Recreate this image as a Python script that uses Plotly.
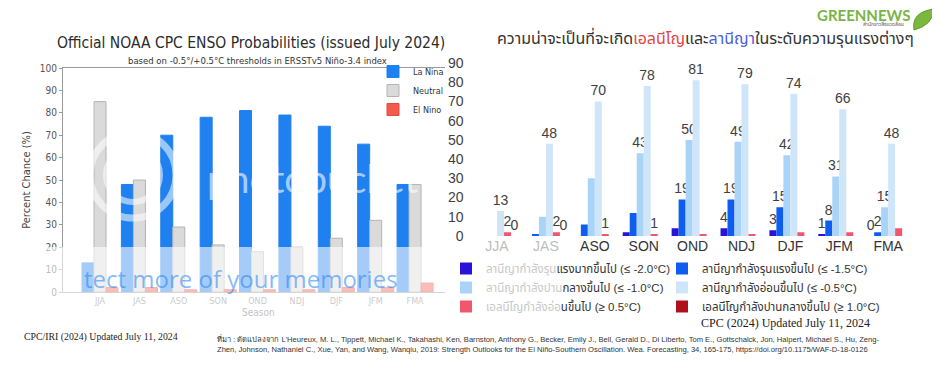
import plotly.graph_objects as go

W, H = 940, 375
OFF = 8  # the page body adds an 8px margin; positions below are in screen pixels


def px(x):
    return (x - OFF) / W


def py(y):
    return (H - (y - OFF)) / H


# ---------------- data: left chart (NOAA CPC) ----------------
seasons = ["JJA", "JAS", "ASO", "SON", "OND", "NDJ", "DJF", "JFM", "FMA"]
la_nina = [13, 48, 70, 78, 81, 79, 74, 66, 48]
neutral = [85, 50, 29, 21, 18, 20, 24, 32, 48]
el_nino = [2, 2, 1, 1, 1, 1, 2, 2, 4]
left_yticks = [0, 10, 20, 30, 40, 50, 60, 70, 80, 90, 100]

# ---------------- data: right chart (strength outlooks) ----------------
ln_le_20 = [0, 0, 0, 2, 4, 4, 3, 1, 0]          # <= -2.0
ln_le_15 = [0, 1, 6, 12, 19, 19, 15, 8, 2]      # <= -1.5
ln_le_10 = [0, 10, 30, 43, 50, 49, 42, 31, 15]  # <= -1.0
ln_le_05 = [13, 48, 70, 78, 81, 79, 74, 66, 48] # <= -0.5
en_ge_05 = [2, 2, 1, 1, 1, 1, 2, 2, 4]          # >= 0.5
en_ge_10 = [0, 0, 0, 0, 0, 0, 0, 0, 0]          # >= 1.0
right_yticks = [0, 10, 20, 30, 40, 50, 60, 70, 80, 90]

# which value labels are printed in the original
show_le_20 = [0, 0, 0, 0, 0, 1, 1, 1, 1]
show_le_15 = [0, 0, 0, 0, 1, 1, 1, 1, 1]
show_le_10 = [0, 0, 0, 1, 1, 1, 1, 1, 1]
show_le_05 = [1, 1, 1, 1, 1, 1, 1, 1, 1]
show_ge_05 = [1, 1, 1, 1, 0, 0, 0, 0, 0]
show_ge_10 = [1, 1, 0, 0, 0, 0, 0, 0, 0]

FADE = "#c8c8c8"
legend_names = [
    f"<span style='color:{FADE}'>ลานีญากำลังรุน</span>แรงมากขึ้นไป (≤ -2.0°C)",
    "ลานีญากำลังรุนแรงขึ้นไป (≤ -1.5°C)",
    f"<span style='color:{FADE}'>ลานีญากำลังปาน</span>กลางขึ้นไป (≤ -1.0°C)",
    "ลานีญากำลังอ่อนขึ้นไป (≤ -0.5°C)",
    f"<span style='color:{FADE}'>เอลนีโญกำลังอ่อ</span>นขึ้นไป (≥ 0.5°C)",
    "เอลนีโญกำลังปานกลางขึ้นไป (≥ 1.0°C)",
]
legend_groups = ["legend2", "legend3", "legend2", "legend3", "legend2", "legend3"]

LEFT_FONT = "DejaVu Sans Condensed, DejaVu Sans, sans-serif"
LEFT_FONT_W = "DejaVu Sans, sans-serif"
RIGHT_FONT = "Liberation Sans, Arial, Noto Sans Thai, sans-serif"

fig = go.Figure()

# left chart bars
lw = 0.305
for vals, name, col, lcol, off in [
    (la_nina, "La Nina", "#1f80f0", "#1f80f0", -1.5 * lw),
    (neutral, "Neutral", "#dadada", "#b4b4b4", -0.5 * lw),
    (el_nino, "El Nino", "#f45a4c", "#e04a3c", 0.5 * lw),
]:
    fig.add_trace(go.Bar(
        x=seasons, y=vals, name=name, width=lw, offset=off,
        marker=dict(color=col, line=dict(color=lcol, width=1)),
        xaxis="x", yaxis="y", legend="legend", hoverinfo="skip",
    ))

# right chart bars
rw = 0.143
right_series = [
    (ln_le_20, show_le_20, "#2a12d8"),
    (ln_le_15, show_le_15, "#0f5cf0"),
    (ln_le_10, show_le_10, "#a9d3f7"),
    (ln_le_05, show_le_05, "#cfe5fa"),
    (en_ge_05, show_ge_05, "#f2566c"),
    (en_ge_10, show_ge_10, "#b0101c"),
]
for i, (vals, show, col) in enumerate(right_series):
    txt = [str(v) if s else "" for v, s in zip(vals, show)]
    fig.add_trace(go.Bar(
        x=seasons, y=vals, name=legend_names[i], width=rw, offset=(i - 3) * rw,
        marker=dict(color=col, line=dict(width=0)),
        text=txt, textposition="outside", constraintext="none", cliponaxis=False,
        textfont=dict(size=14, color="#404040", family=RIGHT_FONT),
        xaxis="x2", yaxis="y2", legend=legend_groups[i], hoverinfo="skip",
    ))

right_ticktext = [
    f"<span style='color:#bdbdbd'>{s}</span>" if i < 2 else s
    for i, s in enumerate(seasons)
]

shapes = [
    # photobucket watermark band (bottom)
    dict(type="rect", xref="paper", yref="paper", x0=px(40), x1=px(452),
         y0=py(318), y1=py(247), fillcolor="rgba(255,255,255,0.6)",
         line=dict(width=0), layer="above"),
    # watermark rings
    dict(type="circle", xref="paper", yref="paper", x0=px(90), x1=px(176),
         y0=py(218), y1=py(132), line=dict(color="rgba(255,255,255,0.55)", width=7),
         layer="above"),
    dict(type="circle", xref="paper", yref="paper", x0=px(106), x1=px(160),
         y0=py(202), y1=py(148), line=dict(color="rgba(255,255,255,0.55)", width=6),
         layer="above"),
    # Greennews leaf
    dict(type="path", xref="paper", yref="paper",
         path=(f"M {px(914)} {py(30)} Q {px(911)} {py(12)} {px(934)} {py(9)} "
               f"Q {px(933)} {py(25)} {px(914)} {py(30)} Z"),
         fillcolor="#7cb83e", line=dict(color="#5f9a2a", width=1), layer="above"),
]


def note(text, x, y, size, color, family, xanchor="center", align="center"):
    return dict(text=text, x=px(x), y=py(y), xref="paper", yref="paper",
                xanchor=xanchor, yanchor="middle", align=align, showarrow=False,
                font=dict(size=size, color=color, family=family))


annotations = [
    note("Official NOAA CPC ENSO Probabilities (issued July 2024)", 251, 43, 15.5,
         "#2b2b2b", LEFT_FONT),
    note("based on -0.5°/+0.5°C thresholds in ERSSTv5 Niño-3.4 index", 257, 61, 8.5,
         "#333333", LEFT_FONT_W),
    note("photobucket", 205, 178, 38, "rgba(255,255,255,0.6)", "Lato, sans-serif",
         xanchor="left"),
    note("tect more of your memories", 82, 278, 24, "rgba(30,128,240,0.55)",
         "Open Sans, sans-serif", xanchor="left"),
    note("Season", 258, 312, 10, "#c4c4c4", LEFT_FONT),
    note(("ความน่าจะเป็นที่จะเกิด<span style='color:#e2453f'>เอลนีโญ</span>และ"
          "<span style='color:#4a5ed2'>ลานีญา</span>ในระดับความรุนแรงต่างๆ"),
         705, 37, 16, "#333333", RIGHT_FONT),
    note("<b>GREENNEWS</b>", 912, 15, 15, "#78b545", "Lato, sans-serif", xanchor="right"),
    note("สำนักข่าวสิ่งแวดล้อม", 906, 23.5, 5, "#555555", RIGHT_FONT, xanchor="right"),
    note("CPC (2024) Updated July 11, 2024", 785, 323, 12, "#222222",
         "Liberation Serif, serif"),
    note("CPC/IRI (2024) Updated July 11, 2024", 22, 337, 9.8, "#222222",
         "Liberation Serif, serif", xanchor="left"),
    note(("ที่มา : ดัดแปลงจาก L'Heureux, M. L., Tippett, Michael K., Takahashi, Ken, "
          "Barnston, Anthony G., Becker, Emily J., Bell, Gerald D., Di Liberto, Tom E., "
          "Gottschalck, Jon, Halpert, Michael S., Hu, Zeng-<br>"
          "Zhen, Johnson, Nathaniel C., Xue, Yan, and Wang, Wanqiu, 2019: Strength Outlooks "
          "for the El Niño-Southern Oscillation. Wea. Forecasting, 34, 165-175, "
          "https://doi.org/10.1175/WAF-D-18-0126"),
         215, 344, 7.6, "#333333",
         "Liberation Sans Narrow, Arial Narrow, Liberation Sans, sans-serif",
         xanchor="left", align="left"),
]

fig.update_layout(
    width=W, height=H, margin=dict(l=0, r=0, t=0, b=0, autoexpand=False),
    paper_bgcolor="white", plot_bgcolor="white",
    barmode="overlay", showlegend=True,
    xaxis=dict(domain=[px(63), px(445)], range=[-0.94, 8.76], type="category",
               categoryorder="array", categoryarray=seasons,
               showline=True, mirror=True, linecolor="#9a9a9a", linewidth=1,
               ticks="", showgrid=False, zeroline=False,
               tickfont=dict(size=9, color="#777777", family=LEFT_FONT)),
    yaxis=dict(domain=[py(292), py(68)], range=[0, 100], tickvals=left_yticks,
               showline=True, linecolor="#9a9a9a", linewidth=1, ticks="outside",
               ticklen=3, tickcolor="#9a9a9a", showgrid=False, zeroline=False,
               tickfont=dict(size=10, color="#555555", family=LEFT_FONT),
               title=dict(text="Percent Chance (%)", standoff=6,
                          font=dict(size=11, color="#444444", family=LEFT_FONT))),
    xaxis2=dict(domain=[px(472.6), px(912.6)], range=[-0.5, 8.5], type="category",
                categoryorder="array", categoryarray=seasons, anchor="y2",
                tickvals=seasons, ticktext=right_ticktext,
                showline=False, showgrid=False, zeroline=False, ticks="",
                tickfont=dict(size=14, color="#333333", family=RIGHT_FONT)),
    yaxis2=dict(domain=[py(236), py(63)], range=[0, 90], anchor="x2",
                tickvals=right_yticks, showline=False, showgrid=False,
                zeroline=False, ticks="", ticklabelstandoff=8,
                tickfont=dict(size=14, color="#404040", family=RIGHT_FONT)),
    legend=dict(x=px(373), y=py(57), xanchor="left", yanchor="top",
                bgcolor="rgba(255,255,255,0)", borderwidth=0,
                font=dict(size=9, color="#333333", family=LEFT_FONT)),
    legend2=dict(x=px(446), y=py(254), xanchor="left", yanchor="top",
                 bgcolor="rgba(255,255,255,0)", borderwidth=0,
                 font=dict(size=11.5, color="#333333", family=RIGHT_FONT)),
    legend3=dict(x=px(662), y=py(254), xanchor="left", yanchor="top",
                 bgcolor="rgba(255,255,255,0)", borderwidth=0,
                 font=dict(size=11.5, color="#333333", family=RIGHT_FONT)),
    shapes=shapes,
    annotations=annotations,
)

fig.write_html("out.html")
